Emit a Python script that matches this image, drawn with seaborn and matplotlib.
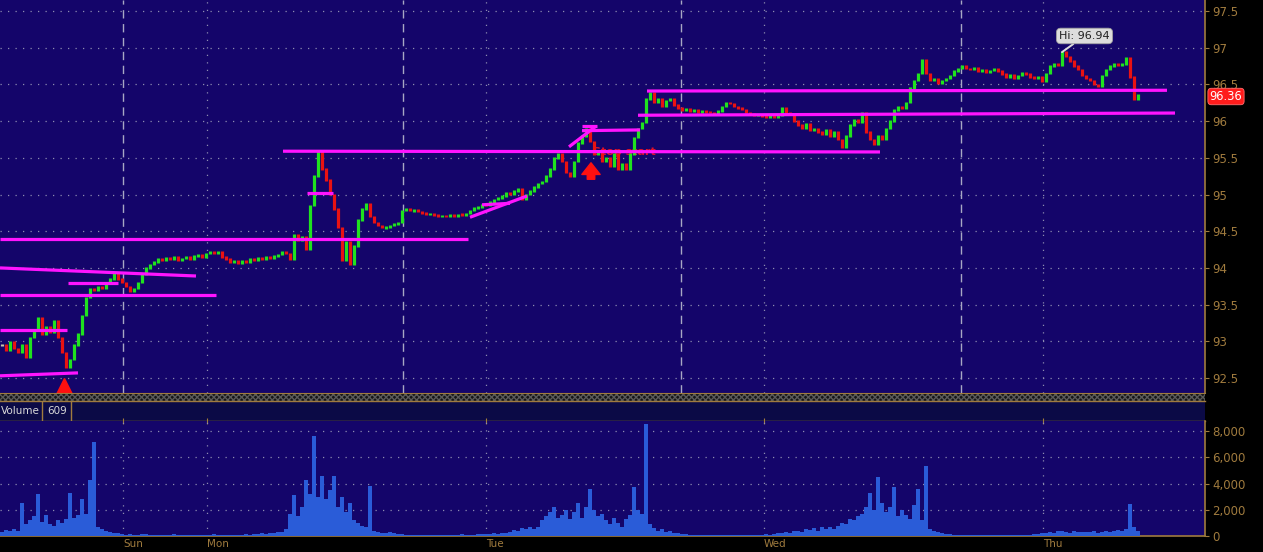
import numpy as np
import pandas as pd
import matplotlib
matplotlib.use("Agg")
import matplotlib.pyplot as plt
import seaborn as sns

# ---------------- data ----------------
close = [
    92.95, 92.88, 93.00, 92.90, 92.85, 92.95, 92.78, 93.05, 93.15, 93.32,
    93.10, 93.20, 93.12, 93.28, 93.05, 92.85, 92.65, 92.75, 92.95, 93.10,
    93.35, 93.60, 93.72, 93.70, 93.75, 93.72, 93.80, 93.85, 93.92, 93.85,
    93.80, 93.75, 93.68, 93.72, 93.80, 93.92, 94.00, 94.05, 94.08, 94.12,
    94.10, 94.14, 94.12, 94.15, 94.10, 94.13, 94.15, 94.12, 94.16, 94.18,
    94.15, 94.20, 94.22, 94.20, 94.22, 94.15, 94.12, 94.08, 94.10, 94.06,
    94.10, 94.08, 94.12, 94.10, 94.14, 94.12, 94.15, 94.13, 94.16, 94.18,
    94.22, 94.20, 94.12, 94.45, 94.38, 94.42, 94.25, 94.85, 95.25, 95.60,
    95.35, 95.20, 95.00, 94.80, 94.55, 94.10, 94.35, 94.05, 94.30, 94.65,
    94.80, 94.88, 94.70, 94.62, 94.58, 94.55, 94.56, 94.58, 94.60, 94.62,
    94.78, 94.80, 94.78, 94.79, 94.77, 94.75, 94.73, 94.74, 94.72, 94.70,
    94.71, 94.70, 94.72, 94.71, 94.73, 94.72, 94.74, 94.78, 94.82, 94.83,
    94.86, 94.85, 94.90, 94.93, 94.95, 94.98, 95.02, 95.00, 95.05, 95.08,
    94.93, 95.00, 95.05, 95.10, 95.15, 95.18, 95.25, 95.35, 95.50, 95.55,
    95.45, 95.30, 95.25, 95.45, 95.70, 95.80, 95.90, 95.72, 95.55, 95.60,
    95.45, 95.50, 95.38, 95.55, 95.35, 95.42, 95.35, 95.55, 95.78, 95.90,
    95.98, 96.30, 96.38, 96.25, 96.30, 96.20, 96.28, 96.30, 96.22, 96.18,
    96.15, 96.17, 96.14, 96.15, 96.12, 96.14, 96.13, 96.12, 96.10, 96.14,
    96.20, 96.25, 96.24, 96.20, 96.18, 96.16, 96.12, 96.10, 96.08, 96.09,
    96.07, 96.06, 96.07, 96.05, 96.08, 96.18, 96.12, 96.10, 96.00, 95.95,
    95.90, 95.96, 95.88, 95.90, 95.85, 95.82, 95.88, 95.80, 95.85, 95.75,
    95.65, 95.80, 95.95, 96.02, 95.98, 96.12, 95.85, 95.75, 95.68, 95.80,
    95.75, 95.90, 96.00, 96.15, 96.20, 96.18, 96.25, 96.45, 96.55, 96.65,
    96.83, 96.65, 96.55, 96.58, 96.52, 96.55, 96.58, 96.62, 96.68, 96.72,
    96.76, 96.72, 96.70, 96.73, 96.68, 96.70, 96.66, 96.69, 96.72, 96.68,
    96.64, 96.60, 96.63, 96.58, 96.62, 96.66, 96.64, 96.60, 96.58, 96.60,
    96.54, 96.65, 96.75, 96.78, 96.76, 96.94, 96.88, 96.82, 96.75, 96.70,
    96.62, 96.58, 96.55, 96.50, 96.48, 96.62, 96.70, 96.75, 96.78, 96.76,
    96.78, 96.86, 96.60, 96.30, 96.36,
]

volume = [
    300, 450, 350, 500, 400, 2500, 900, 1200, 1500, 3200,
    1100, 1600, 900, 800, 1200, 1000, 1300, 3250, 1400, 1600,
    2800, 1700, 4300, 7200, 700, 500, 400, 300, 250, 200,
    150, 100, 120, 80, 100, 150, 120, 100, 80, 90,
    100, 80, 70, 120, 90, 60, 80, 100, 70, 90,
    80, 100, 90, 120, 80, 70, 100, 90, 80, 110,
    90, 120, 100, 150, 130, 200, 180, 250, 220, 300,
    300, 500, 1700, 3100, 1500, 2200, 4300, 3200, 7600, 3000,
    4570, 2800, 3500, 4570, 2200, 3000, 1800, 2500, 1200, 1000,
    800, 700, 3800, 400, 300, 250, 200, 300, 250, 150,
    120, 100, 80, 100, 90, 70, 80, 60, 90, 80,
    70, 90, 80, 100, 80, 120, 100, 90, 110, 130,
    150, 120, 180, 200, 150, 250, 200, 300, 450, 350,
    600, 500, 650, 550, 700, 1200, 1500, 1800, 2200, 1400,
    1600, 2000, 1300, 1800, 2500, 1400, 2200, 3550, 2000, 1500,
    1700, 1200, 900, 1400, 1000, 700, 1300, 1600, 3750, 2000,
    1700, 8500, 900, 600, 400, 500, 300, 350, 250, 200,
    150, 120, 100, 90, 80, 100, 70, 80, 90, 60,
    80, 70, 100, 90, 60, 80, 70, 90, 100, 80,
    100, 120, 90, 150, 200, 250, 300, 200, 400, 350,
    300, 500, 450, 600, 400, 700, 500, 650, 550, 800,
    1000, 900, 1300, 1200, 1500, 1700, 2200, 3250, 2000, 4470,
    2500, 1800, 2200, 3750, 1500, 2000, 1600, 1300, 2400, 3550,
    1200, 5330, 500, 400, 300, 200, 150, 120, 100, 80,
    70, 60, 80, 50, 70, 60, 50, 80, 60, 70,
    60, 80, 70, 90, 60, 80, 100, 90, 120, 150,
    200, 250, 300, 220, 350, 400, 300, 250, 350, 300,
    280, 320, 300, 350, 260, 300, 380, 320, 400, 450,
    350, 500, 2440, 700, 400,
]

day_labels = ["Sun", "Mon", "Tue", "Wed", "Thu"]
price_ticks = [92.5, 93, 93.5, 94, 94.5, 95, 95.5, 96, 96.5, 97, 97.5]
price_tick_labels = ["92.5", "93", "93.5", "94", "94.5", "95", "95.5", "96", "96.5", "97", "97.5"]
vol_ticks = [0, 2000, 4000, 6000, 8000]
vol_tick_labels = ["0", "2,000", "4,000", "6,000", "8,000"]

# drawn study lines: (x0, x1, price0, price1) in bar index / price units
study_x0 = [-0.5, -0.5, -0.5, 16.5, -0.5, -0.5, 76.25, 70.25, 117, 120, 141.75, 145, 145, 159, 161.25]
study_x1 = [19, 16.25, 53.5, 29, 48.5, 116.5, 82.75, 219.5, 131.25, 127, 148.25, 148.75, 159.5, 293.25, 291.25]
study_p0 = [92.53, 93.15, 93.63, 93.79, 94.00, 94.39, 95.02, 95.59, 94.69, 94.86, 95.65, 95.93, 95.87, 96.08, 96.41]
study_p1 = [92.57, 93.15, 93.63, 93.79, 93.89, 94.39, 95.02, 95.58, 94.98, 94.88, 95.92, 95.93, 95.88, 96.11, 96.42]

last_price = "96.36"
high_label = "Hi: 96.94"
volume_last = "609"

# ---------------- style ----------------
sns.set_style("dark")
plt.rcParams["font.family"] = ["DejaVu Sans"]

BG = "#14056a"
TAN = "#a07b3e"
GRID = "#8c8cb0"
W, H = 1263, 552

def rect(x0, y0, x1, y1):
    return [x0 / W, 1 - y1 / H, (x1 - x0) / W, (y1 - y0) / H]

fig = plt.figure(figsize=(W / 100, H / 100), dpi=100, facecolor="black")
ax_p = fig.add_axes(rect(0, 0, 1205, 393))
ax_s = fig.add_axes(rect(0, 393, 1205, 401))
ax_h = fig.add_axes(rect(0, 401, 1205, 421))
ax_v = fig.add_axes(rect(0, 421, 1205, 536))

n = len(close)
idx = np.arange(n)
xmin, xmax = -0.5, 1205 / 4 - 0.5
sun_x, mon_x, tue_x, wed_x, thu_x = 30.25, 51.25, 121.0, 190.5, 260.25
day_pos = [sun_x, mon_x, tue_x, wed_x, thu_x]
session_pos = [30.25, 100.25, 169.75, 239.75]

# ---------------- price pane ----------------
ax_p.set_facecolor(BG)
ax_p.set_xlim(xmin, xmax)
ax_p.set_ylim(92.296, 97.65)
for p in price_ticks:
    ax_p.axhline(p, color=GRID, lw=0.9, ls=(0, (1, 5)), zorder=1)
for d in day_pos[1:]:
    ax_p.axvline(d, color=GRID, lw=0.9, ls=(0, (1, 5)), zorder=1)
for s in session_pos:
    ax_p.axvline(s, color="#a8a8c4", lw=1.0, ls=(0, (6, 4)), zorder=1)

c = np.array(close)
o = np.r_[c[0], c[:-1]]
lo = np.minimum(o, c)
hi = np.maximum(o, c)
small = (hi - lo) < 0.016
mid = (hi + lo) / 2
lo = np.where(small, mid - 0.008, lo)
hi = np.where(small, mid + 0.008, hi)
cols = np.where(c > o + 0.004, "#1fe21f", np.where(c < o - 0.004, "#ea1212", "#c8c8a8"))
ax_p.vlines(idx, lo - 0.01, hi + 0.01, colors=list(cols), linewidth=2.3, zorder=3)

# red "Stop start" note under the line
ax_p.text(147.75, 95.58, "Stop start", color="#e0102a", fontsize=8, fontweight="bold",
          va="center", ha="left", zorder=2)

for x0, x1, p0, p1 in zip(study_x0, study_x1, study_p0, study_p1):
    ax_p.plot([x0, x1], [p0, p1], color="#ff14ff", lw=2.3, solid_capstyle="butt", zorder=4)

# red arrows
ax_p.plot([15.5], [92.39], marker="^", color="#ff1010", markersize=11, zorder=5, clip_on=False)
ax_p.annotate("", xy=(147.25, 95.47), xytext=(147.25, 95.17),
              arrowprops=dict(arrowstyle="simple,head_length=0.7,head_width=1.1,tail_width=0.45",
                              fc="#ff1010", ec="#ff1010", mutation_scale=12), zorder=5)

# Hi callout
ax_p.annotate(high_label, xy=(265, 96.94), xytext=(264.3, 97.16),
              fontsize=8, color="#202020", ha="left", va="center",
              bbox=dict(boxstyle="round,pad=0.25,rounding_size=0.4", fc="#dcdcdc", ec="#a0a0a0", lw=0.6),
              arrowprops=dict(arrowstyle="-", color="#dcdcdc", lw=1.4, shrinkA=0, shrinkB=0), zorder=6)

ax_p.yaxis.tick_right()
ax_p.set_yticks(price_ticks)
ax_p.set_yticklabels(price_tick_labels)
ax_p.tick_params(axis="y", colors=TAN, labelcolor=TAN, length=3, width=0.8, pad=2, labelsize=8.5)
ax_p.set_xticks([])
for side in ["left", "top", "bottom"]:
    ax_p.spines[side].set_visible(False)
ax_p.spines["right"].set_color(TAN)
ax_p.spines["right"].set_linewidth(1.2)
ax_p.grid(False)

# last price flag
fig.text(1226 / W, 1 - 96.5 / H, last_price, color="white", fontsize=8.3, ha="center", va="center",
         zorder=10,
         bbox=dict(boxstyle="round,pad=0.15,rounding_size=0.3", fc="#ff1c1c", ec="#ff7070", lw=0.6))

# ---------------- separator band ----------------
ax_s.set_facecolor("#151515")
ax_s.add_patch(plt.Rectangle((0, 0), 1, 1, transform=ax_s.transAxes, fc="#151515",
                             ec="#5a5a5a", hatch="xxxxxx", lw=0))
ax_s.set_xticks([])
ax_s.set_yticks([])
for side in ["left", "right", "bottom"]:
    ax_s.spines[side].set_visible(False)
ax_s.spines["top"].set_color(TAN)

# ---------------- volume header ----------------
ax_h.set_facecolor("#0b0a46")
ax_h.set_xlim(0, 1205)
ax_h.set_ylim(0, 1)
ax_h.text(1, 0.5, "Volume", color="#d8d8d8", fontsize=7.5, ha="left", va="center")
ax_h.text(57, 0.5, volume_last, color="#d8d8d8", fontsize=7.5, ha="center", va="center")
ax_h.axvline(42, color=TAN, lw=1)
ax_h.axvline(71, color=TAN, lw=1)
ax_h.set_xticks([])
ax_h.set_yticks([])
for side in ["left", "right"]:
    ax_h.spines[side].set_visible(False)
for side in ["top", "bottom"]:
    ax_h.spines[side].set_color(TAN)
    ax_h.spines[side].set_linewidth(1)

# ---------------- volume pane ----------------
ax_v.set_facecolor(BG)
vdf = pd.DataFrame({"bar": idx, "volume": volume})
sns.barplot(data=vdf, x="bar", y="volume", native_scale=True, color="#2a5cd8",
            saturation=1, width=0.8, errorbar=None, linewidth=0, ax=ax_v, zorder=3)
ax_v.set_xlim(xmin, xmax)
ax_v.set_ylim(0, 8762)
for v in vol_ticks[1:]:
    ax_v.axhline(v, color=GRID, lw=0.9, ls=(0, (1, 5)), zorder=1)
for d in day_pos:
    ax_v.axvline(d, color=GRID, lw=0.9, ls=(0, (1, 5)), zorder=1)
ax_v.set_xlabel("")
ax_v.set_ylabel("")
ax_v.yaxis.tick_right()
ax_v.set_yticks(vol_ticks)
ax_v.set_yticklabels(vol_tick_labels)
ax_v.tick_params(axis="y", colors=TAN, labelcolor=TAN, length=3, width=0.8, pad=2, labelsize=8.5)
ax_v.set_xticks(day_pos)
ax_v.set_xticklabels(day_labels)
for lab in ax_v.get_xticklabels():
    lab.set_horizontalalignment("left")
ax_v.tick_params(axis="x", colors=TAN, labelcolor=TAN, length=4, width=0.8, direction="inout",
                 top=True, pad=0.5, labelsize=7.5)
ax_v.spines["left"].set_visible(False)
ax_v.spines["top"].set_visible(False)
for side in ["right", "bottom"]:
    ax_v.spines[side].set_color(TAN)
    ax_v.spines[side].set_linewidth(1.2)
ax_v.grid(False)

fig.savefig("out.png", dpi=100, facecolor="black")
